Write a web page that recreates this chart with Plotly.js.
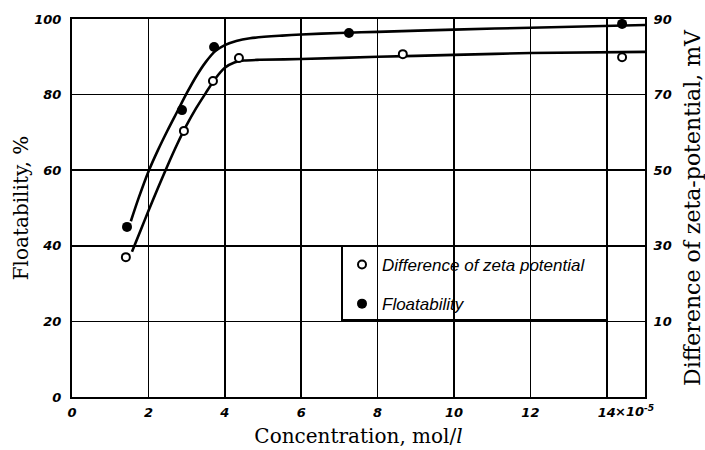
<!DOCTYPE html>
<html>
<head>
<meta charset="utf-8">
<script src="https://cdn.plot.ly/plotly-3.0.1.min.js"></script>
<style>html,body{margin:0;padding:0;background:#fff;}#chart{width:705px;height:450px;}</style>
</head>
<body>
<div id="chart"></div>
<script>
// Measured points
const floatX = [1.44, 2.88, 3.72, 7.25, 14.4];
const floatY = [45, 75.9, 92.6, 96.3, 98.7];            // %
const zetaX = [1.41, 2.93, 3.69, 4.37, 8.66, 14.4];
const zetaY = [27, 60.4, 73.6, 79.7, 80.7, 79.9];        // mV

// Hand-drawn fitted curves
const floatCurveX = [1.54, 1.75, 2.0, 2.25, 2.5, 2.75, 3.0, 3.25, 3.5, 3.75, 4.0, 4.3, 4.66, 5.5, 6, 7, 8, 10, 12, 15];
const floatCurveY = [46.5, 52.8, 59.6, 65.3, 70.5, 75.4, 80.3, 84.8, 88.6, 91.5, 93.1, 94.2, 94.9, 95.6, 95.9, 96.3, 96.6, 97.2, 97.7, 98.4];
const zetaCurveX = [1.57, 1.8, 2.0, 2.25, 2.5, 2.75, 3.0, 3.25, 3.5, 3.75, 4.0, 4.25, 4.5, 4.92, 6, 8, 10, 12, 15];
const zetaCurveY = [28.4, 34.2, 39.2, 45.3, 51.2, 56.8, 61.9, 66.4, 70.4, 74.2, 77.1, 78.5, 79.0, 79.2, 79.4, 80, 80.5, 81, 81.3];

const xTicks = [0, 2, 4, 6, 8, 10, 12, 14];
const xTickText = ['0', '2', '4', '6', '8', '10', '12', '14'];
const yTicks = [0, 20, 40, 60, 80, 100];
const y2Ticks = [10, 30, 50, 70, 90];

const tickFont = {family: 'DejaVu Sans', size: 13, color: '#000', weight: 'bold', style: 'italic'};
const titleFont = {family: 'DejaVu Serif', size: 20, color: '#000'};

const traces = [
  {x: floatCurveX, y: floatCurveY, mode: 'lines', line: {color: '#000', width: 2.6, shape: 'spline', smoothing: 0.8},
   showlegend: false, hoverinfo: 'skip'},
  {x: zetaCurveX, y: zetaCurveY, yaxis: 'y2', mode: 'lines', line: {color: '#000', width: 2.6, shape: 'spline', smoothing: 0.8},
   showlegend: false, hoverinfo: 'skip'},
  {x: zetaX, y: zetaY, yaxis: 'y2', mode: 'markers', name: 'Difference of zeta potential',
   legendgroup: 'a',
   marker: {symbol: 'circle', size: 8, color: '#fff', line: {color: '#000', width: 2}}},
  {x: floatX, y: floatY, mode: 'markers', name: 'Floatability', legendgroup: 'b',
   marker: {symbol: 'circle', size: 10, color: '#000', line: {color: '#000', width: 0}}}
];

const layout = {
  width: 705, height: 450,
  margin: {l: 72, r: 60, t: 19, b: 53},
  paper_bgcolor: '#fff', plot_bgcolor: '#fff',
  showlegend: true,
  legend: {
    x: (342 - 72) / 573, y: (397 - 247) / 378, xanchor: 'left', yanchor: 'top',
    bgcolor: 'rgba(0,0,0,0)', borderwidth: 0,
    traceorder: 'grouped', tracegroupgap: 14,
    font: {family: 'Liberation Sans', size: 17, style: 'italic', color: '#000'}
  },
  xaxis: {
    range: [0, 15], tickvals: xTicks, ticktext: xTickText, ticks: '',
    showgrid: true, gridcolor: '#000', gridwidth: 1.5, zeroline: false,
    showline: true, linecolor: '#000', linewidth: 2, mirror: true,
    tickfont: tickFont, ticklabelstandoff: 2,
    title: {text: 'Concentration, mol/<i>l</i>', font: titleFont, standoff: 10}
  },
  yaxis: {
    range: [0, 100], tickvals: yTicks, ticks: '',
    showgrid: true, gridcolor: '#000', gridwidth: 1.5, zeroline: false,
    showline: true, linecolor: '#000', linewidth: 2,
    tickfont: tickFont, ticklabelstandoff: 6,
    title: {text: 'Floatability, %', font: titleFont, standoff: 0}
  },
  yaxis2: {
    range: [-10, 90], tickvals: y2Ticks, ticks: '', overlaying: 'y', side: 'right',
    showgrid: false, zeroline: false,
    showline: true, linecolor: '#000', linewidth: 2,
    tickfont: tickFont, ticklabelstandoff: 4,
    title: {text: 'Difference of zeta-potential, mV', font: {family: 'DejaVu Serif', size: 22, color: '#000'}, standoff: 14}
  },
  shapes: [
    {type: 'rect', xref: 'paper', yref: 'paper', layer: 'between',
     x0: (342 - 72) / 573, x1: (607 - 72) / 573, y0: (397 - 320) / 378, y1: (397 - 246) / 378,
     fillcolor: '#fff', line: {color: '#000', width: 2}}
  ],
  annotations: [
    {xref: 'x', yref: 'paper', x: 14.17, y: 0, xanchor: 'left', yanchor: 'middle', yshift: -14,
     showarrow: false, text: '×10<sup>-5</sup>', font: tickFont}
  ]
};

Plotly.newPlot('chart', traces, layout, {staticPlot: true, displayModeBar: false});
</script>
</body>
</html>
